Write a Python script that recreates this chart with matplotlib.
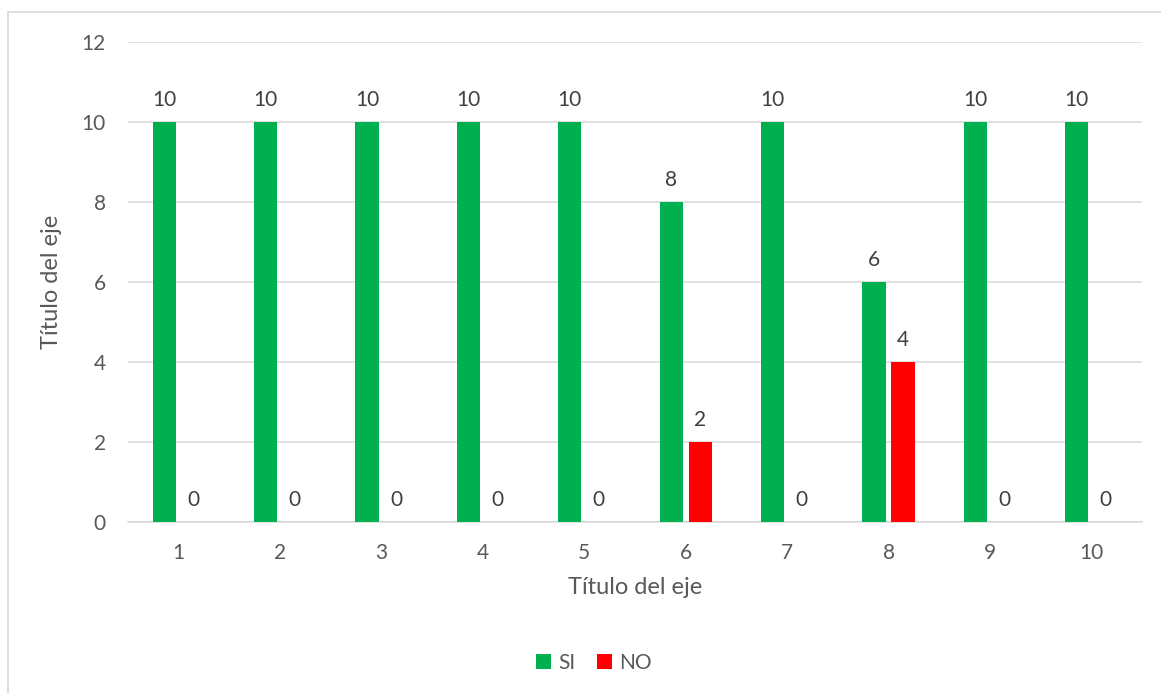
import matplotlib
matplotlib.use("Agg")
import matplotlib.pyplot as plt
from matplotlib.patches import Rectangle
import numpy as np

categorias = ["1", "2", "3", "4", "5", "6", "7", "8", "9", "10"]
si = [10, 10, 10, 10, 10, 8, 10, 6, 10, 10]
no = [0, 0, 0, 0, 0, 2, 0, 4, 0, 0]

verde = "#00B050"
rojo = "#FF0000"
gris_txt = "#595959"
gris_lbl = "#404040"
gris_lin = "#D9D9D9"

plt.rcParams["font.family"] = ["Lato", "DejaVu Sans"]

W, H = 1161, 693
fig = plt.figure(figsize=(W / 100, H / 100), dpi=100)
fig.patch.set_facecolor("white")

# borde del area del grafico (se corta por la derecha y abajo)
fig.patches.append(Rectangle((8 / W, -0.05), 1.1, 1 - 12 / H + 0.05,
                             transform=fig.transFigure, fill=False,
                             edgecolor=gris_lin, linewidth=1.2))

ax = fig.add_axes([128 / W, 171 / H, (1142 - 128) / W, (522 - 42) / H])

x = np.arange(len(categorias))
ancho = 0.227
desp = 0.143
b1 = ax.bar(x - desp, si, ancho, color=verde, label="SI", zorder=3)
b2 = ax.bar(x + desp, no, ancho, color=rojo, label="NO", zorder=3)

for barras in (b1, b2):
    for r in barras:
        ax.annotate(f"{r.get_height():g}",
                    (r.get_x() + r.get_width() / 2, r.get_height()),
                    xytext=(0, 9), textcoords="offset points",
                    ha="center", va="bottom", fontsize=15, color=gris_lbl)

ax.set_xlim(-0.5, len(categorias) - 0.5)
ax.set_ylim(0, 12)
ax.set_yticks(range(0, 13, 2))
ax.set_xticks(x)
ax.set_xticklabels(categorias)

ax.grid(axis="y", color=gris_lin, linewidth=1.1, zorder=0)
ax.set_axisbelow(True)
for s in ("top", "right", "left"):
    ax.spines[s].set_visible(False)
ax.spines["bottom"].set_color(gris_lin)
ax.spines["bottom"].set_linewidth(1.1)
ax.tick_params(axis="both", length=0, labelsize=15, colors=gris_txt)
ax.tick_params(axis="y", pad=16)
ax.tick_params(axis="x", pad=15)

ax.set_xlabel("Título del eje", fontsize=17, color=gris_txt, labelpad=10)
ax.set_ylabel("Título del eje", fontsize=17, color=gris_txt, labelpad=14)

fig.legend(handles=[b1, b2], labels=["SI", "NO"], loc="center",
           bbox_to_anchor=(594 / W, 1 - 663 / H), ncol=2, frameon=False,
           fontsize=15, labelcolor=gris_txt, handlelength=0.75,
           handleheight=0.75, handletextpad=0.35, columnspacing=1.0)

fig.savefig("out.png", dpi=100, facecolor="white")
